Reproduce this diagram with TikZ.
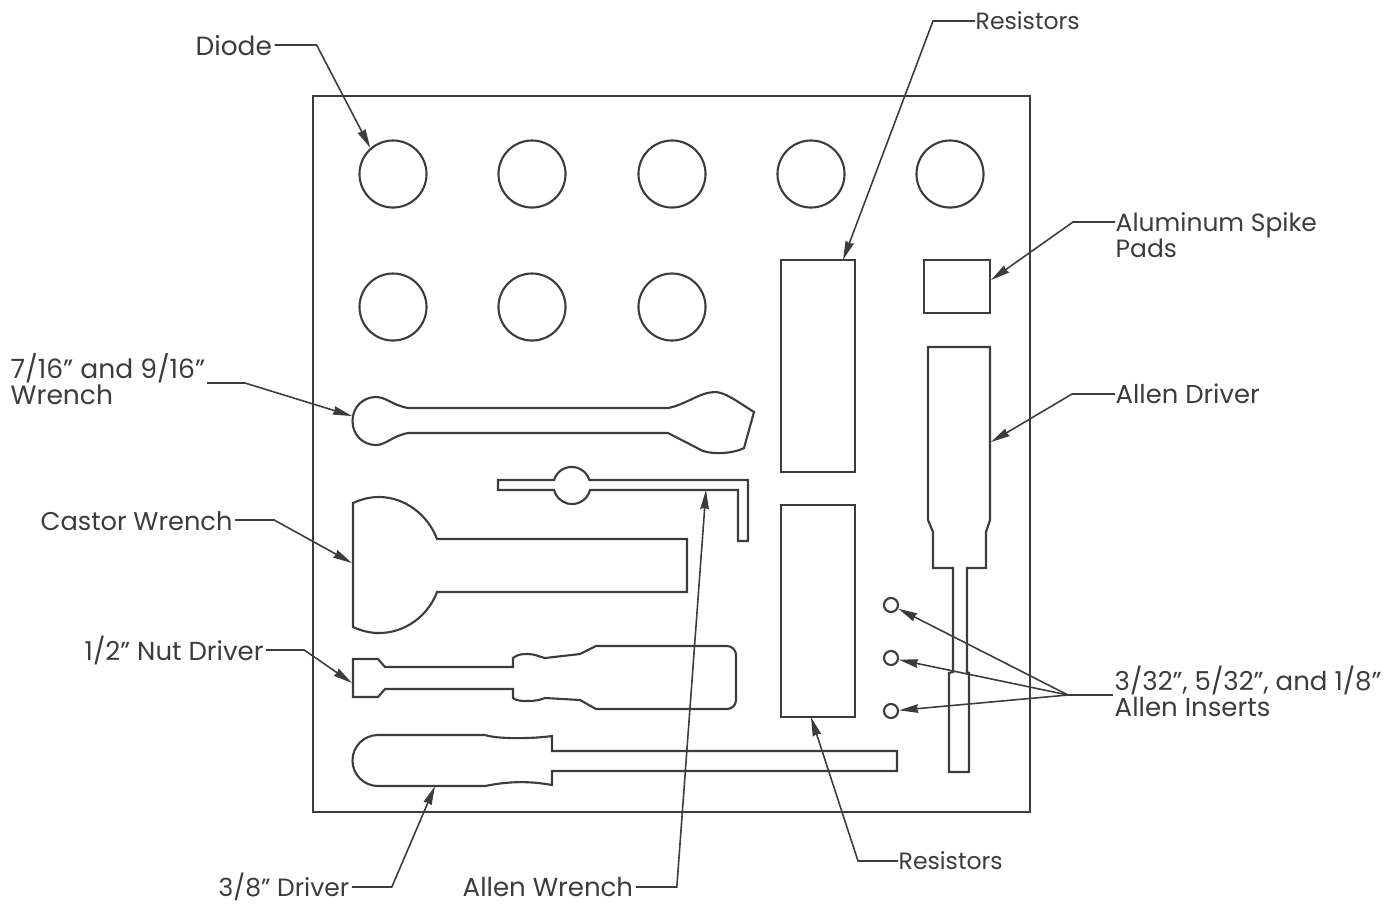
\documentclass[tikz,border=0pt]{standalone}
\usepackage{fontspec}
\setmainfont{Poppins}
\usetikzlibrary{arrows.meta}
\definecolor{inkgray}{HTML}{3C3C3C}
\tikzset{
  part/.style={draw=inkgray,line width=0.6pt,line join=miter},
  hole/.style={part,circle,inner sep=0pt,minimum size=0.67cm},
  pin/.style={part,circle,inner sep=0pt,minimum size=0.14cm},
  slot/.style={part,rectangle,inner sep=0pt},
  callout/.style={anchor=west,inner sep=0pt,align=left,text=inkgray,font=\fontsize{#1}{7.4}\selectfont},
  callout/.default=7.1,
  leader/.style={draw=inkgray,line width=0.45pt,-{Stealth[length=1.9mm,width=0.85mm,inset=0.1mm]}},
}
\begin{document}
\begin{tikzpicture}[x=0.01cm,y=-0.01cm]
        \useasboundingbox (0,0) rectangle (1400,905);
        \draw[part] (313,96) rectangle (1030,812); % Plate

        % Holes
        \foreach \name/\px in {a/393,b/532,c/672,d/811,e/950}
            \node[hole] (top\name) at (\px,174) {};
        \foreach \name/\px in {a/393,b/532,c/672}
            \node[hole] (low\name) at (\px,307) {};
        \foreach \name/\py in {a/605,b/658,c/711}
            \node[pin] (insert\name) at (891,\py) {};

        % Rectangular pockets
        \node[slot,minimum width=0.74cm,minimum height=2.12cm] (restop) at (818,366) {};
        \node[slot,minimum width=0.74cm,minimum height=2.12cm] (resbot) at (818,611) {};
        \node[slot,minimum width=0.66cm,minimum height=0.53cm] (pads) at (957,286.5) {};

        % Wrench
        \draw[part] (352.5,421) .. controls (352.5,407) and (363,397) .. (376,397)
            .. controls (386,397) and (392,405) .. (408,408) -- (668,408)
            .. controls (685,405) and (700,392) .. (715,392)
            .. controls (725,392) and (738,402) .. (754,412) -- (744,448)
            .. controls (735,453) and (715,455) .. (703,451) -- (668,433) -- (408,433)
            .. controls (392,436) and (386,445) .. (376,445)
            .. controls (363,445) and (352.5,435) .. (352.5,421) -- cycle;

        % Allen wrench
        \draw[part] (498,480) -- (554,480) arc[start angle=163,end angle=17,radius=0.185cm]
            -- (748,480) -- (748,541) -- (738,541) -- (738,490) -- (590,490)
            arc[start angle=-14,end angle=-166,radius=0.185cm] -- (498,490) -- cycle;

        % Castor wrench
        \draw[part] (353,503) .. controls (362,499) and (370,497) .. (379,497)
            .. controls (405,497) and (428,515) .. (437,539) -- (687,539) -- (687,592) -- (437,592)
            .. controls (428,616) and (405,633) .. (379,633)
            .. controls (370,633) and (362,631) .. (353,627) -- cycle;

        % Nut driver
        \draw[part] (353,659) -- (378,659) -- (385,667) -- (513,667) -- (513,658)
            .. controls (518,654) and (523,654) .. (528,654)
            .. controls (535,654) and (540,657) .. (545,658) -- (580,654) -- (596,646) -- (727,646)
            .. controls (732,646) and (736,650) .. (736,655) -- (736,700)
            .. controls (736,705) and (732,709) .. (727,709) -- (596,709) -- (580,700) -- (545,698)
            .. controls (540,700) and (535,701) .. (528,701)
            .. controls (523,701) and (516,701) .. (513,698) -- (513,689) -- (385,689) -- (378,697) -- (353,697) -- cycle;

        % Long driver
        \draw[part] (378,735) -- (485,735) .. controls (497,739) and (530,739) .. (552,736)
            -- (552,751) -- (897,751) -- (897,771) -- (552,771) -- (552,785)
            .. controls (530,781) and (510,781) .. (485,786) -- (378,786)
            arc[start angle=270,end angle=90,radius=0.255cm] -- cycle;

        % Allen driver
        \draw[part] (928,347) -- (990,347) -- (990,520) -- (986,532) -- (986,568) -- (967,568)
            -- (967,672) -- (969,673) -- (969,772) -- (949,772) -- (949,673) -- (953,672)
            -- (953,568) -- (933,568) -- (933,532) -- (928,520) -- cycle;

        % Labels
        \node[callout=7.5] (diode) at (195,46) {Diode};
        \node[callout=7.55] (wrench) at (10,379) {7/16" and 9/16"\\Wrench};
        \node[callout=7.3] (castor) at (40,521) {Castor Wrench};
        \node[callout=7.4] (nutdriver) at (84,650) {1/2" Nut Driver};
        \node[callout] (driver) at (218,887) {3/8" Driver};
        \node[callout=7.4] (allenwrench) at (462,887) {Allen Wrench};
        \node[callout=6.7] (resone) at (975,21) {Resistors};
        \node[callout=6.7] (restwo) at (898,861) {Resistors};
        \node[callout] (spike) at (1115,235) {Aluminum Spike\\Pads};
        \node[callout=7.35] (allendriver) at (1115,394) {Allen Driver};
        \node[callout=7.4] (inserts) at (1114,691) {3/32", 5/32", and 1/8"\\Allen Inserts};

        % Leader ends
        \coordinate (wrenchend) at (352,416);
        \coordinate (castorend) at (352,563);
        \coordinate (nutend) at (352,683);
        \coordinate (driverend) at (435,786);
        \coordinate (allenend) at (706,490);
        \coordinate (restopend) at (843,260);
        \coordinate (resbotend) at (811,717);
        \coordinate (padsend) at (991,280);
        \coordinate (driverside) at (991,442);
        \coordinate (split) at (1068,695);

        % Leaders
        \draw[leader] (diode.east) ++(2,-1) -- ++(42,0) -- (topa.131);
        \draw[leader] (207,383) -- (245,383) -- (wrenchend);
        \draw[leader] (castor.east) ++(2,-1) -- ++(39,0) -- (castorend);
        \draw[leader] (nutdriver.east) ++(2,0) -- ++(38,0) -- (nutend);
        \draw[leader] (driver.east) ++(2,0) -- ++(40,0) -- (driverend);
        \draw[leader] (allenwrench.east) ++(2,0) -- ++(41,0) -- (allenend);
        \draw[leader] (resone.west) -- ++(-42,0) -- (restopend);
        \draw[leader] (restwo.west) -- ++(-40,0) -- (resbotend);
        \draw[leader] (1115,222) -- (1073,222) -- (padsend);
        \draw[leader] (allendriver.west) -- ++(-43,0) -- (driverside);
        \draw[draw=inkgray,line width=0.45pt] (1113,695) -- (split);
        \foreach \name in {a,b,c}
            \draw[leader] (split) -- (insert\name);
\end{tikzpicture}
\end{document}
